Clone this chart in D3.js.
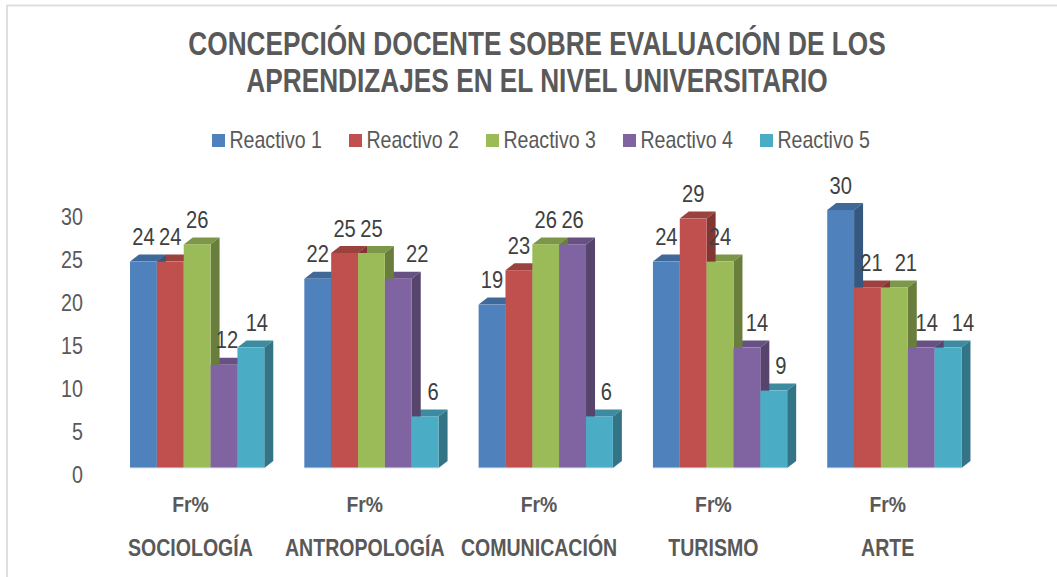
<!DOCTYPE html>
<html><head><meta charset="utf-8">
<script src="https://cdn.jsdelivr.net/npm/d3@7"></script>
<style>html,body{margin:0;padding:0;background:#fff}svg{display:block}text{font-family:"Liberation Sans",Arial,sans-serif}</style>
</head><body><svg id="c" width="1057" height="577"></svg>
<script>
const titleLines=["CONCEPCIÓN DOCENTE SOBRE EVALUACIÓN DE LOS","APRENDIZAJES EN EL NIVEL UNIVERSITARIO"];
const categories=["SOCIOLOGÍA","ANTROPOLOGÍA","COMUNICACIÓN","TURISMO","ARTE"];
const subLabel="Fr%";
const seriesNames=["Reactivo 1","Reactivo 2","Reactivo 3","Reactivo 4","Reactivo 5"];
const reactivo1=[24,22,19,24,30];
const reactivo2=[24,25,23,29,21];
const reactivo3=[26,25,26,24,21];
const reactivo4=[12,22,26,14,14];
const reactivo5=[14,6,6,9,14];
const yTicks=[0,5,10,15,20,25,30];
const seriesValues=[reactivo1,reactivo2,reactivo3,reactivo4,reactivo5];
const colors=["#4f81bd","#c0504d","#9bbb59","#8064a2","#4bacc6"];

const svg=d3.select("#c");
// frame: only the top and left edges fall inside the picture
svg.append("rect").attr("x",7).attr("y",5.5).attr("width",1100).attr("height",640).attr("fill","#fff").attr("stroke","#dedede").attr("stroke-width",2);

const dx=9,dy=7;
const y=d3.scaleLinear().domain([0,30]).range([468,210]);
const x0=d3.scaleBand().domain(categories).range([110,981.5]);
const barW=26.85;
const x1=d3.scaleBand().domain(seriesNames).range([0,barW*5]);
const groupOffset=(x0.bandwidth()-barW*5)/2;
const labelShift=[[0,0,0,3,6],[0,0,0,19,8],[0,0,0,0,7],[0,0,0,10,7],[0,4,11.5,5.5,15]];

function squeezed(parent,str,px,py,size,sx,fill,weight,anchor){
  return parent.append("text").attr("transform",`translate(${px},${py}) scale(${sx},1)`)
    .attr("font-size",size).attr("fill",fill).attr("font-weight",weight).attr("text-anchor",anchor).text(str);
}

// title
titleLines.forEach((l,i)=>squeezed(svg,l,537,[55,92][i],33,0.795,"#595959",700,"middle"));

// legend
const legendX=[212,349,486,623,760];
const lg=svg.append("g");
seriesNames.forEach((s,i)=>{
  lg.append("rect").attr("x",legendX[i]).attr("y",134).attr("width",13).attr("height",13).attr("fill",colors[i]);
  squeezed(lg,s,legendX[i]+17.5,148,24,0.815,"#595959",400,"start");
});

// y axis labels
const ga=svg.append("g").attr("transform","translate(83,7)").call(d3.axisLeft(y).tickValues(yTicks).tickSize(0).tickPadding(0));
ga.select(".domain").remove();
ga.selectAll("text").attr("font-size",24).attr("fill","#595959").attr("transform","scale(0.82,1)").style("font-family",'"Liberation Sans",Arial,sans-serif');

// bars
categories.forEach((cat,ci)=>{
  const g=svg.append("g");
  const gx=x0(cat)+groupOffset;
  d3.range(4,-1,-1).forEach(si=>{
    const v=seriesValues[si][ci];
    const xl=gx+x1(seriesNames[si]),xr=xl+x1.bandwidth(),yt=y(v),yb=y(0);
    g.append("polygon").attr("points",[[xl,yt],[xl+dx,yt-dy],[xr+dx,yt-dy],[xr,yt]].join(" ")).attr("fill",d3.rgb(colors[si]).darker(0.6));
    g.append("polygon").attr("points",[[xr,yt],[xr+dx,yt-dy],[xr+dx,yb-dy],[xr,yb]].join(" ")).attr("fill",d3.rgb(colors[si]).darker(1.1));
  });
  d3.range(0,5).forEach(si=>{
    const v=seriesValues[si][ci];
    g.append("rect").attr("x",gx+x1(seriesNames[si])).attr("y",y(v)).attr("width",x1.bandwidth()).attr("height",y(0)-y(v)).attr("fill",colors[si]);
  });
  g.append("line").attr("x1",gx).attr("x2",gx+barW*5).attr("y1",y(0)).attr("y2",y(0)).attr("stroke","#dce6f2").attr("stroke-width",1);
  d3.range(0,5).forEach(si=>{
    const v=seriesValues[si][ci];
    squeezed(g,v,gx+x1(seriesNames[si])+x1.bandwidth()/2+labelShift[ci][si],y(v)-16.5,24,0.84,"#404040",400,"middle");
  });
  const cx=x0(cat)+x0.bandwidth()/2-6.7;
  squeezed(g,subLabel,cx,511.5,22.5,0.86,"#595959",700,"middle");
  squeezed(g,cat,cx,556,23,0.85,"#595959",700,"middle");
});
</script></body></html>
